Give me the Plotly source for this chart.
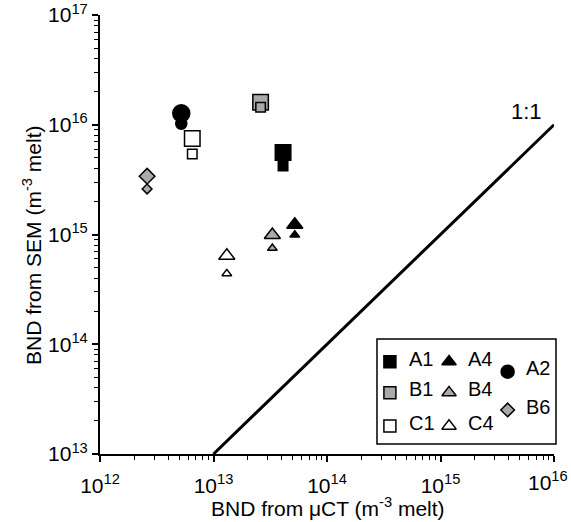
import plotly.graph_objects as go

# ---- data ----
samples   = ["A1", "A2", "A4", "B1", "B4", "B6", "C1", "C4"]
bnd_muct  = [4.1e13, 5.2e12, 5.2e13, 2.6e13, 3.3e13, 2.6e12, 6.5e12, 1.31e13]
bnd_sem_a = [5.6e15, 1.27e16, 1.23e15, 1.6e16, 9.9e14, 3.4e15, 7.5e15, 6.4e14]
bnd_sem_b = [4.2e15, 1.02e16, 9.9e14, 1.44e16, 7.5e14, 2.6e15, 5.4e15, 4.4e14]
one_to_one_x = [1e13, 1e16]
one_to_one_y = [1e13, 1e16]
x_tick_exp = [12, 13, 14, 15, 16]
y_tick_exp = [13, 14, 15, 16, 17]

# ---- styles ----
BLACK, GRAY, WHITE = "#000000", "#aaaaaa", "#ffffff"
style = {
    "A1": ("square", BLACK), "A2": ("circle", BLACK), "A4": ("triangle-up", BLACK),
    "B1": ("square", GRAY), "B4": ("triangle-up", GRAY), "B6": ("diamond", GRAY),
    "C1": ("square", WHITE), "C4": ("triangle-up", WHITE),
}
size_big = {"square": 15.5, "circle": 17, "triangle-up": 14, "diamond": 12}
size_small = {"square": 9.5, "circle": 11, "triangle-up": 8.5, "diamond": 7.5}
size_leg = {"square": 12, "circle": 13, "triangle-up": 12.5, "diamond": 10.5}

FONT = "Liberation Sans, Arial, sans-serif"
TICK_FONT = dict(family=FONT, size=21, color="black")

fig = go.Figure()

fig.add_trace(go.Scatter(x=one_to_one_x, y=one_to_one_y, mode="lines",
                         line=dict(color="black", width=3), showlegend=False,
                         hoverinfo="skip"))

for i, s in enumerate(samples):
    sym, col = style[s]
    for yv, sz in ((bnd_sem_a[i], size_big[sym]), (bnd_sem_b[i], size_small[sym])):
        fig.add_trace(go.Scatter(
            x=[bnd_muct[i]], y=[yv], mode="markers", name=s, showlegend=False,
            marker=dict(symbol=sym, size=sz, color=col,
                        line=dict(color="black", width=1.5))))

# ---- custom legend drawn in an inset axis ----
leg_layout = {  # column x, row y within legend box (0..1)
    "A1": (0.073, 0.784), "B1": (0.073, 0.489), "C1": (0.073, 0.171),
    "A4": (0.407, 0.784), "B4": (0.407, 0.489), "C4": (0.407, 0.171),
    "A2": (0.738, 0.689), "B6": (0.738, 0.324),
}
text_dx = 0.095
annotations = []
for s in samples:
    sym, col = style[s]
    lx, ly = leg_layout[s]
    fig.add_trace(go.Scatter(
        x=[lx], y=[ly], mode="markers", xaxis="x2", yaxis="y2", showlegend=False,
        marker=dict(symbol=sym, size=size_leg[sym], color=col,
                    line=dict(color="black", width=1.5)), hoverinfo="skip"))
    annotations.append(dict(x=lx + text_dx, y=ly + 0.03, xref="x2", yref="y2", text=s,
                            showarrow=False, xanchor="left", yanchor="middle",
                            font=dict(family=FONT, size=20, color="black")))

# x tick labels: the last one is nudged left so it stays inside the page
x_ticktext = [f"10<sup>{e}</sup>" for e in x_tick_exp]
last_label = x_ticktext[-1]
x_ticktext[-1] = ""

annotations += [
    dict(x=x_tick_exp[-1], y=0, xref="x", yref="paper", text=last_label,
         showarrow=False, xanchor="right", yanchor="top", xshift=16, yshift=-12,
         font=TICK_FONT),
    dict(x=15.76, y=16.12, xref="x", yref="y", text="1:1", showarrow=False,
         font=dict(family=FONT, size=22, color="black")),
    dict(x=0.502, y=-0.121, xref="paper", yref="paper",
         text="BND from \u03bcCT (m<sup>-3</sup> melt)", showarrow=False,
         xanchor="center", yanchor="middle",
         font=dict(family=FONT, size=21, color="black")),
    dict(x=-0.15, y=0.476, xref="paper", yref="paper", textangle=-90,
         text="BND from SEM (m<sup>-3</sup> melt)", showarrow=False,
         xanchor="center", yanchor="middle",
         font=dict(family=FONT, size=21, color="black")),
]

def minor_vals(exps):
    return [m * 10.0 ** e for e in exps[:-1] for m in range(2, 10)]

axis_common = dict(
    type="log", showline=True, linecolor="black", linewidth=2, mirror=False,
    showgrid=False, zeroline=False, ticks="outside", ticklen=6, tickwidth=1.5,
    tickcolor="black", tickfont=TICK_FONT,
    ticklabeloverflow="allow", automargin=False,
)

fig.update_layout(
    width=571, height=522,
    margin=dict(l=100, r=17, t=15, b=68, autoexpand=False),
    paper_bgcolor="white", plot_bgcolor="white",
    xaxis=dict(axis_common, range=[12, 16], domain=[0, 1],
               tickmode="array", tickvals=[10.0 ** e for e in x_tick_exp],
               ticktext=x_ticktext, ticklabelstandoff=6,
               minor=dict(tickmode="array", tickvals=minor_vals(x_tick_exp),
                          ticks="outside", ticklen=4, tickwidth=1.2, tickcolor="black")),
    yaxis=dict(axis_common, range=[13, 17], domain=[0, 1],
               tickmode="array", tickvals=[10.0 ** e for e in y_tick_exp],
               ticktext=[f"10<sup>{e}</sup>" for e in y_tick_exp],
               minor=dict(tickmode="array", tickvals=minor_vals(y_tick_exp),
                          ticks="outside", ticklen=4, tickwidth=1.2, tickcolor="black")),
    xaxis2=dict(domain=[0.6101, 1.0], range=[0, 1], visible=False, anchor="y2",
                fixedrange=True),
    yaxis2=dict(domain=[0.0228, 0.262], range=[0, 1], visible=False, anchor="x2",
                fixedrange=True),
    shapes=[dict(type="rect", xref="paper", yref="paper", x0=0.6101, x1=1.0044,
                 y0=0.0228, y1=0.262, line=dict(color="black", width=1.5),
                 fillcolor="rgba(0,0,0,0)")],
    annotations=annotations,
    showlegend=False,
)

fig.write_html("out.html", config={"displayModeBar": False},
               post_script="document.body.style.margin='0';document.body.style.padding='0';")
